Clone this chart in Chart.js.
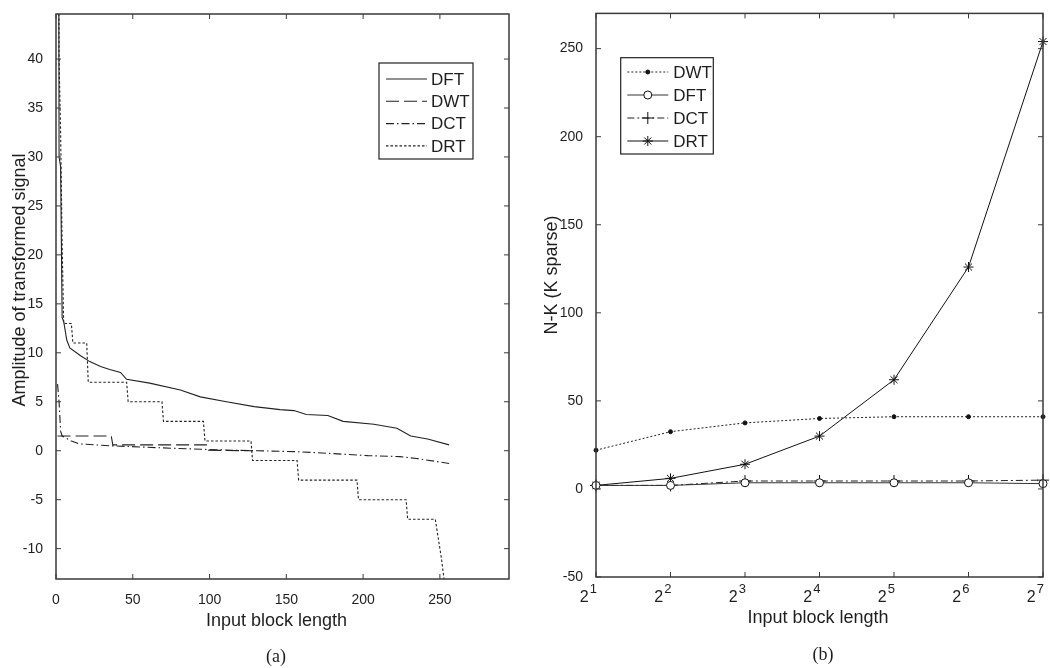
<!DOCTYPE html>
<html>
<head>
<meta charset="utf-8">
<script src="https://cdn.jsdelivr.net/npm/chart.js@4.4.1/dist/chart.umd.min.js"></script>
<style>
html, body { margin:0; padding:0; background:#fff; }
#wrapA { position:absolute; left:0; top:0; width:530px; height:668px; }
#wrapB { position:absolute; left:530px; top:0; width:520px; height:668px; }
</style>
</head>
<body>
<div id="wrapA"><canvas id="chartA"></canvas></div>
<div id="wrapB"><canvas id="chartB"></canvas></div>
<script>
// (a) sorted transform coefficients
let dftX = [1, 2, 3, 4, 5, 7, 9, 16, 22, 29, 35, 42, 46, 61, 81, 94, 111, 129, 146, 155, 163, 177, 187, 207, 222, 231, 242, 256];
let dftY = [128, 30, 29, 13.6, 13.2, 11.3, 10.5, 9.7, 9.1, 8.6, 8.3, 8.0, 7.3, 6.9, 6.2, 5.5, 5.0, 4.5, 4.2, 4.1, 3.7, 3.6, 3.0, 2.7, 2.3, 1.5, 1.2, 0.6];
let dwtX = [1, 36, 37, 98, 99, 128];
let dwtY = [1.5, 1.5, 0.6, 0.6, 0.05, 0.0];
let dctX = [1, 2, 3, 4, 10, 15, 25, 36, 68, 94, 115, 131, 157, 181, 203, 224, 235, 256];
let dctY = [6.8, 5, 2, 1.5, 1.0, 0.7, 0.6, 0.5, 0.3, 0.15, 0.05, 0, -0.1, -0.3, -0.5, -0.6, -0.8, -1.3];
let drtX = [1, 2, 3, 4, 5, 10, 11, 20, 21, 46, 47, 69, 70, 96, 97, 127, 128, 157, 158, 196, 197, 228, 229, 247, 249, 251, 253, 256];
let drtY = [80, 40, 32.5, 21, 13, 13, 11, 11, 7, 7, 5, 5, 3, 3, 1, 1, -1, -1, -3, -3, -5, -5, -7, -7, -9, -11, -13.5, -20];
let aXTicks = [0, 50, 100, 150, 200, 250];
let aYTicks = [-10, -5, 0, 5, 10, 15, 20, 25, 30, 35, 40];

// (b) N-K against block length
let blockLengths = [2, 4, 8, 16, 32, 64, 128];
let dwtK = [22, 32.5, 37.5, 40, 41, 41, 41];
let dftK = [2, 2, 3.5, 3.5, 3.5, 3.5, 3];
let dctK = [2, 2, 4.5, 4.5, 4.5, 4.5, 5];
let drtK = [2, 6, 14, 30, 62, 126, 254];
let bYTicks = [-50, 0, 50, 100, 150, 200, 250];

let ink = '#1e1e1e';
let tickFont = { family: "'Liberation Sans Narrow', 'Liberation Sans', Arial, sans-serif", size: 14 };

function pts(xs, ys) {
    return xs.map((x, i) => ({ x: x, y: ys[i] }));
}
function setTicks(list) {
    return function(scale) { scale.ticks = list.map(v => ({ value: v })); };
}

// box round the plot with inward tick marks on all four sides
let frame = {
    id: 'frame',
    afterDraw(chart) {
        let ctx = chart.ctx, a = chart.chartArea;
        let xs = chart.scales.x, ys = chart.scales.y;
        ctx.save();
        ctx.strokeStyle = '#3a3a3a';
        ctx.lineWidth = 1;
        ctx.beginPath();
        xs.ticks.forEach(t => {
            let p = xs.getPixelForValue(t.value);
            ctx.moveTo(p, a.bottom); ctx.lineTo(p, a.bottom - 5);
            ctx.moveTo(p, a.top); ctx.lineTo(p, a.top + 5);
        });
        ys.ticks.forEach(t => {
            let p = ys.getPixelForValue(t.value);
            ctx.moveTo(a.left, p); ctx.lineTo(a.left + 5, p);
            ctx.moveTo(a.right, p); ctx.lineTo(a.right - 5, p);
        });
        ctx.stroke();
        ctx.lineWidth = 1.5;
        ctx.strokeRect(a.left, a.top, a.right - a.left, a.bottom - a.top);
        ctx.restore();
    }
};

// boxed legend inside the axes, matlab style
let boxLegend = {
    id: 'boxLegend',
    afterDraw(chart, args, opts) {
        let ctx = chart.ctx;
        ctx.save();
        ctx.fillStyle = '#fff';
        ctx.fillRect(opts.x, opts.y, opts.w, opts.h);
        ctx.strokeStyle = '#222';
        ctx.lineWidth = 1.2;
        ctx.strokeRect(opts.x, opts.y, opts.w, opts.h);
        chart.data.datasets.forEach((ds, i) => {
            let y = opts.row0 + i * opts.rowH;
            ctx.strokeStyle = ds.borderColor;
            ctx.lineWidth = ds.borderWidth;
            ctx.setLineDash(ds.borderDash || []);
            ctx.beginPath();
            ctx.moveTo(opts.line0, y);
            ctx.lineTo(opts.line1, y);
            ctx.stroke();
            ctx.setLineDash([]);
            if (ds.pointRadius > 0) {
                ctx.fillStyle = ds.pointBackgroundColor;
                ctx.strokeStyle = ds.pointBorderColor;
                ctx.lineWidth = 1;
                if (Chart.helpers && Chart.helpers.drawPoint) {
                    Chart.helpers.drawPoint(ctx, { pointStyle: ds.pointStyle, radius: ds.pointRadius, borderWidth: 1, rotation: 0 }, (opts.line0 + opts.line1) / 2, y);
                } else {
                    ctx.beginPath();
                    ctx.arc((opts.line0 + opts.line1) / 2, y, ds.pointRadius, 0, Math.PI * 2);
                    ctx.fill(); ctx.stroke();
                }
            }
            ctx.fillStyle = ink;
            ctx.font = opts.font;
            ctx.textBaseline = 'middle';
            ctx.textAlign = 'left';
            ctx.fillText(ds.label, opts.text0, y + 1);
        });
        ctx.restore();
    }
};

// axis titles and the (a)/(b) captions
let texts = {
    id: 'texts',
    afterDraw(chart, args, opts) {
        let ctx = chart.ctx;
        ctx.save();
        ctx.fillStyle = ink;
        ctx.textAlign = 'center';
        ctx.textBaseline = 'middle';
        opts.items.forEach(it => {
            ctx.save();
            ctx.font = it.font;
            ctx.translate(it.x, it.y);
            if (it.rot) ctx.rotate(it.rot);
            ctx.fillText(it.text, 0, 0);
            ctx.restore();
        });
        ctx.restore();
    }
};

// 2^n labels for the block length axis
let powerTicks = {
    id: 'powerTicks',
    afterDraw(chart, args, opts) {
        let ctx = chart.ctx, xs = chart.scales.x;
        ctx.save();
        ctx.fillStyle = ink;
        ctx.textAlign = 'right';
        ctx.textBaseline = 'alphabetic';
        blockLengths.forEach(v => {
            let p = xs.getPixelForValue(v) + 1;
            let e = String(Math.round(Math.log2(v)));
            ctx.font = opts.expFont;
            let w = ctx.measureText(e).width;
            ctx.fillText(e, p, opts.expBase);
            ctx.font = opts.baseFont;
            ctx.fillText('2', p - w - 1, opts.base);
        });
        ctx.restore();
    }
};

let titleFont = "18px 'Liberation Sans', Arial, sans-serif";
let capFont = "18px 'Liberation Serif', 'DejaVu Serif', serif";

let ctxA = document.getElementById('chartA').getContext('2d');
let chartA = new Chart(ctxA, {
    type: 'line',
    data: {
        datasets: [
            { label: 'DFT', data: pts(dftX, dftY), borderColor: '#222', borderWidth: 1.1, pointRadius: 0, tension: 0 },
            { label: 'DWT', data: pts(dwtX, dwtY), borderColor: '#222', borderWidth: 1.1, borderDash: [13, 5], pointRadius: 0, tension: 0 },
            { label: 'DCT', data: pts(dctX, dctY), borderColor: '#222', borderWidth: 1.1, borderDash: [8, 3, 1.5, 3], pointRadius: 0, tension: 0 },
            { label: 'DRT', data: pts(drtX, drtY), borderColor: '#222', borderWidth: 1.1, borderDash: [2.5, 2], pointRadius: 0, tension: 0 }
        ]
    },
    options: {
        responsive: true,
        maintainAspectRatio: false,
        animation: false,
        layout: { padding: { top: 14, right: 21, left: 0, bottom: 0 } },
        scales: {
            x: {
                type: 'linear', min: 0, max: 295,
                afterBuildTicks: setTicks(aXTicks),
                afterFit: s => { s.height = 89; },
                grid: { display: false }, border: { display: false },
                ticks: { color: ink, font: tickFont, padding: 5, maxRotation: 0 }
            },
            y: {
                type: 'linear', min: -13.1, max: 44.6,
                afterBuildTicks: setTicks(aYTicks),
                afterFit: s => { s.width = 56; },
                grid: { display: false }, border: { display: false },
                ticks: { color: ink, font: tickFont, padding: 5 }
            }
        },
        plugins: {
            legend: { display: false },
            tooltip: { enabled: false },
            boxLegend: { x: 379, y: 63, w: 94, h: 96, row0: 79, rowH: 22.3, line0: 386, line1: 427, text0: 431, font: "17px 'Liberation Sans', Arial, sans-serif" },
            texts: { items: [
                { text: 'Amplitude of transformed signal', x: 20, y: 280, rot: -Math.PI / 2, font: titleFont },
                { text: 'Input block length', x: 276.5, y: 621, font: titleFont },
                { text: '(a)', x: 276, y: 657, font: capFont }
            ] }
        }
    },
    plugins: [frame, boxLegend, texts]
});

let ctxB = document.getElementById('chartB').getContext('2d');
let chartB = new Chart(ctxB, {
    type: 'line',
    data: {
        labels: blockLengths,
        datasets: [
            { label: 'DWT', data: pts(blockLengths, dwtK), borderColor: '#222', borderWidth: 1, borderDash: [2, 2], clip: 8,
              pointStyle: 'circle', pointRadius: 2, pointBackgroundColor: '#111', pointBorderColor: '#111', tension: 0 },
            { label: 'DFT', data: pts(blockLengths, dftK), borderColor: '#333', borderWidth: 1, clip: 8,
              pointStyle: 'circle', pointRadius: 4, pointBackgroundColor: '#fff', pointBorderColor: '#111', tension: 0 },
            { label: 'DCT', data: pts(blockLengths, dctK), borderColor: '#222', borderWidth: 1, borderDash: [7, 3, 2, 3], clip: 8,
              pointStyle: 'cross', pointRadius: 6, pointBackgroundColor: '#111', pointBorderColor: '#111', tension: 0 },
            { label: 'DRT', data: pts(blockLengths, drtK), borderColor: '#111', borderWidth: 1, clip: 8,
              pointStyle: 'star', pointRadius: 5, pointBackgroundColor: '#111', pointBorderColor: '#111', tension: 0 }
        ]
    },
    options: {
        responsive: true,
        maintainAspectRatio: false,
        animation: false,
        layout: { padding: { top: 7, right: 6, left: 0, bottom: 0 } },
        scales: {
            x: {
                type: 'logarithmic', min: 2, max: 128,
                afterBuildTicks: setTicks(blockLengths),
                afterFit: s => { s.height = 91; },
                grid: { display: false }, border: { display: false },
                ticks: { display: false }
            },
            y: {
                type: 'linear', min: -50, max: 270,
                afterBuildTicks: setTicks(bYTicks),
                afterFit: s => { s.width = 66; },
                grid: { display: false }, border: { display: false },
                ticks: { color: ink, font: tickFont, padding: 5 }
            }
        },
        plugins: {
            legend: { display: false },
            tooltip: { enabled: false },
            boxLegend: { x: 90.7, y: 57.7, w: 92.6, h: 96.3, row0: 72, rowH: 23, line0: 97.3, line1: 138.3, text0: 143.3, font: "17px 'Liberation Sans', Arial, sans-serif" },
            powerTicks: { base: 602, expBase: 593, baseFont: "16px 'Liberation Sans Narrow', 'Liberation Sans', sans-serif", expFont: "13px 'Liberation Sans Narrow', 'Liberation Sans', sans-serif" },
            texts: { items: [
                { text: 'N-K (K sparse)', x: 22, y: 275, rot: -Math.PI / 2, font: titleFont },
                { text: 'Input block length', x: 288, y: 618, font: titleFont },
                { text: '(b)', x: 293, y: 655, font: capFont }
            ] }
        }
    },
    plugins: [frame, boxLegend, powerTicks, texts]
});
</script>
</body>
</html>
